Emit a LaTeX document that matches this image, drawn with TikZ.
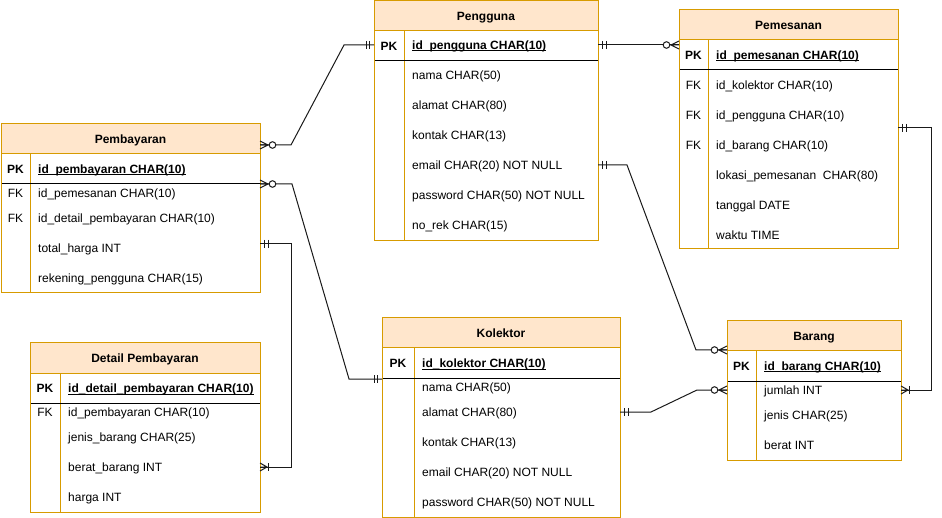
\documentclass[tikz,border=0pt]{standalone}
\usepackage{fontspec}
\setmainfont{Liberation Sans}
\definecolor{tblorange}{HTML}{D79B00}
\definecolor{hdrfill}{HTML}{FFE6CC}
\definecolor{relline}{HTML}{1A1A1A}

% underlined primary-key text, rule just below the baseline
\newcommand\keyul[1]{\setbox0\hbox{#1}\rlap{\rule[-1.6pt]{\wd0}{0.9pt}}\box0}

% table frame: name, left, top, right, bottom, key-column divider, title
\newcommand\ertable[7]{%
  \fill[hdrfill] (#2,#3) rectangle (#4,#3+30);
  \draw[tblline] (#2,#3+30) -- (#4,#3+30);
  \draw[tblline] (#6,#3+30) -- (#6,#5);
  \draw[keysep] (#2,#3+60) -- (#4,#3+60);
  \node[tblbox, minimum width={#4pt-#2pt}, minimum height={#5pt-#3pt},
        anchor=north west] (#1) at (#2,#3) {};
  \node[titletext] (#1-title) at ({(#2+#4)/2},#3+15+4.8) {\textbf{#7}};
  \node[keytext] (#1-pk) at ({(#2+#6)/2},#3+45+4.8) {\textbf{PK}};
}
% field row: name, x, y (row centre), text
\newcommand\fld[4]{\node[fieldtext] (#1) at (#2,#3+4.8) {#4};}
% foreign-key marker: name, x (column centre), y (row centre)
\newcommand\fkey[3]{\node[keytext] (#1) at (#2,#3+4.8) {FK};}

\tikzset{
  tblline/.style={draw=tblorange, line width=1pt},
  keysep/.style={draw=black, line width=1pt},
  tblbox/.style={draw=tblorange, line width=1pt, inner sep=0pt, outer sep=0pt},
  titletext/.style={anchor=base, inner sep=0pt, font=\fontsize{12}{14}\selectfont},
  keytext/.style={anchor=base, inner sep=0pt, font=\fontsize{12}{14}\selectfont},
  fieldtext/.style={anchor=base west, inner sep=0pt, font=\fontsize{12}{14}\selectfont},
  rel/.style={draw=relline, line width=1pt},
  pics/mandone/.style={code={
    \draw[rel] (-4.5,-4) -- (-4.5,4) (-8,-4) -- (-8,4);}},
  pics/zeromany/.style={code={
    \draw[rel] (0,-4) -- (-8,0) -- (0,4) (0,0) -- (-8,0);
    \draw[rel, fill=white] (-12.5,0) circle (3.3);}},
  pics/onemany/.style={code={
    \draw[rel] (0,-4) -- (-7,0) -- (0,4) (0,0) -- (-7,0);
    \draw[rel] (-8.5,-4) -- (-8.5,4);}},
}

\begin{document}
\begin{tikzpicture}[x=1pt,y=-1pt]
\useasboundingbox (0,0) rectangle (942,518);
\fill[white] (0,0) rectangle (942,518);

% ---------------- Pengguna
\ertable{pg}{374}{1}{598}{241}{404}{Pengguna}
\fld{pg-id}{412}{45}{\textbf{\keyul{id\_pengguna CHAR(10)}}}
\fld{pg-f1}{412}{75}{nama CHAR(50)}
\fld{pg-f2}{412}{105}{alamat CHAR(80)}
\fld{pg-f3}{412}{135}{kontak CHAR(13)}
\fld{pg-f4}{412}{165}{email CHAR(20) NOT NULL}
\fld{pg-f5}{412}{195}{password CHAR(50) NOT NULL}
\fld{pg-f6}{412}{225}{no\_rek CHAR(15)}

% ---------------- Pemesanan
\ertable{pm}{679}{10}{898}{249}{708}{Pemesanan}
\fld{pm-id}{716}{55}{\textbf{\keyul{id\_pemesanan CHAR(10)}}}
\fkey{pm-k1}{693.5}{85}
\fkey{pm-k2}{693.5}{115}
\fkey{pm-k3}{693.5}{145}
\fld{pm-f1}{716}{85}{id\_kolektor CHAR(10)}
\fld{pm-f2}{716}{115}{id\_pengguna CHAR(10)}
\fld{pm-f3}{716}{145}{id\_barang CHAR(10)}
\fld{pm-f4}{716}{175}{lokasi\_pemesanan\ \ CHAR(80)}
\fld{pm-f5}{716}{205}{tanggal DATE}
\fld{pm-f6}{716}{235}{waktu TIME}

% ---------------- Pembayaran
\ertable{pb}{1}{124}{260}{293}{30}{Pembayaran}
\fld{pb-id}{38}{169}{\textbf{\keyul{id\_pembayaran CHAR(10)}}}
\fkey{pb-k1}{15.5}{193}
\fkey{pb-k2}{15.5}{218}
\fld{pb-f1}{38}{193}{id\_pemesanan CHAR(10)}
\fld{pb-f2}{38}{218}{id\_detail\_pembayaran CHAR(10)}
\fld{pb-f3}{38}{248}{total\_harga INT}
\fld{pb-f4}{38}{278}{rekening\_pengguna CHAR(15)}

% ---------------- Detail Pembayaran
\ertable{dp}{30}{343}{260}{512}{60}{Detail Pembayaran}
\fld{dp-id}{68}{388}{\textbf{\keyul{id\_detail\_pembayaran CHAR(10)}}}
\fkey{dp-k1}{45}{412}
\fld{dp-f1}{68}{412}{id\_pembayaran CHAR(10)}
\fld{dp-f2}{68}{437}{jenis\_barang CHAR(25)}
\fld{dp-f3}{68}{467}{berat\_barang INT}
\fld{dp-f4}{68}{497}{harga INT}

% ---------------- Kolektor
\ertable{kl}{382}{318}{620}{517}{414}{Kolektor}
\fld{kl-id}{422}{363}{\textbf{\keyul{id\_kolektor CHAR(10)}}}
\fld{kl-f1}{422}{387}{nama CHAR(50)}
\fld{kl-f2}{422}{412}{alamat CHAR(80)}
\fld{kl-f3}{422}{442}{kontak CHAR(13)}
\fld{kl-f4}{422}{472}{email CHAR(20) NOT NULL}
\fld{kl-f5}{422}{502}{password CHAR(50) NOT NULL}

% ---------------- Barang
\ertable{br}{727}{321}{901}{460}{756}{Barang}
\fld{br-id}{764}{366}{\textbf{\keyul{id\_barang CHAR(10)}}}
\fld{br-f1}{764}{390}{jumlah INT}
\fld{br-f2}{764}{415}{jenis CHAR(25)}
\fld{br-f3}{764}{445}{berat INT}

% ---------------- relationship end points on the table borders
\coordinate (pg-w-pk)  at (pg.west |- 0,45);
\coordinate (pg-e-pk)  at (pg.east |- 0,45);
\coordinate (pg-e-em)  at (pg.east |- 0,165);
\coordinate (pb-e-hd)  at (pb.east |- 0,145);
\coordinate (pb-e-pk)  at (pb.east |- 0,184);
\coordinate (pb-e-th)  at (pb.east |- 0,244);
\coordinate (dp-e-bb)  at (dp.east |- 0,467);
\coordinate (pm-w-pk)  at (pm.west |- 0,45);
\coordinate (pm-e-br)  at (pm.east |- 0,128);
\coordinate (kl-w-pk)  at (kl.west |- 0,379);
\coordinate (kl-e-al)  at (kl.east |- 0,412);
\coordinate (br-w-hd)  at (br.west |- 0,350);
\coordinate (br-w-jm)  at (br.west |- 0,390);
\coordinate (br-e-jm)  at (br.east |- 0,390);

% ---------------- relationship lines
\draw[rel] (pg-w-pk) -- (344,45) -- (291,145) -- (pb-e-hd);
\draw[rel] (pb-e-pk) -- (292,184) -- (349,379) -- (kl-w-pk);
\draw[rel] (pg-e-pk) -- (pm-w-pk);
\draw[rel] (pg-e-em) -- (627,165) -- (696,350) -- (br-w-hd);
\draw[rel] (kl-e-al) -- (651,412) -- (697,390) -- (br-w-jm);
\draw[rel] (pm-e-br) -- (931,128) -- (931,390) -- (br-e-jm);
\draw[rel] (pb-e-th) -- (291,244) -- (291,467) -- (dp-e-bb);

% ---------------- cardinality marks
\pic at (pg-w-pk) {mandone};
\pic[xscale=-1] at (pb-e-hd) {zeromany};
\pic[xscale=-1] at (pb-e-pk) {zeromany};
\pic at (kl-w-pk) {mandone};
\pic[xscale=-1] at (pg-e-pk) {mandone};
\pic at (pm-w-pk) {zeromany};
\pic[xscale=-1] at (pg-e-em) {mandone};
\pic at (br-w-hd) {zeromany};
\pic[xscale=-1] at (kl-e-al) {mandone};
\pic at (br-w-jm) {zeromany};
\pic[xscale=-1] at (pm-e-br) {mandone};
\pic[xscale=-1] at (br-e-jm) {onemany};
\pic[xscale=-1] at (pb-e-th) {mandone};
\pic[xscale=-1] at (dp-e-bb) {onemany};
\end{tikzpicture}
\end{document}
